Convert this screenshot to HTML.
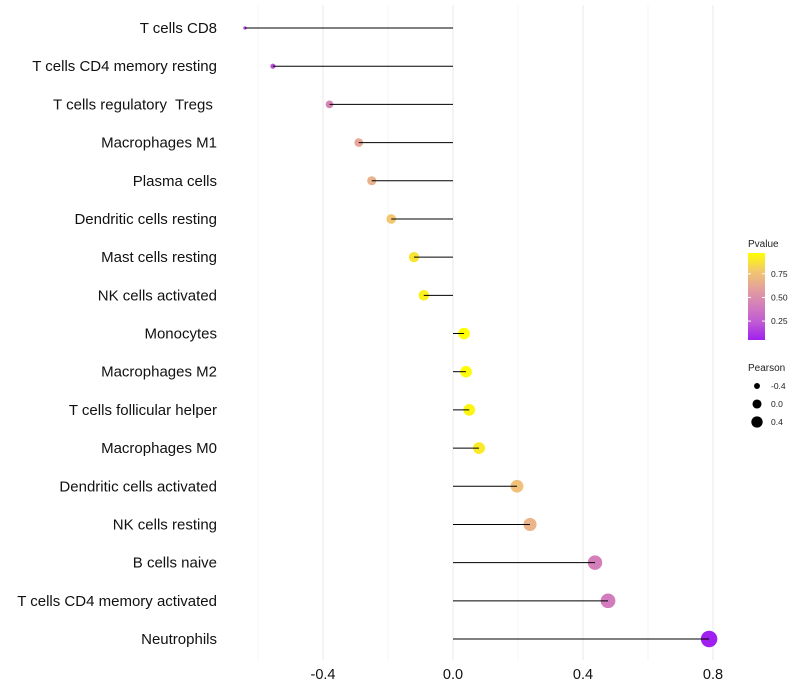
<!DOCTYPE html>
<html><head><meta charset="utf-8"><style>
body{margin:0;background:#fff;}
svg{display:block;font-family:"Liberation Sans",Arial,sans-serif;}
text{white-space:pre;}
</style></head><body>
<svg id="chart" width="800" height="700"></svg>
<script>
const categories=["T cells CD8","T cells CD4 memory resting","T cells regulatory  Tregs ","Macrophages M1","Plasma cells","Dendritic cells resting","Mast cells resting","NK cells activated","Monocytes","Macrophages M2","T cells follicular helper","Macrophages M0","Dendritic cells activated","NK cells resting","B cells naive","T cells CD4 memory activated","Neutrophils"];
const pearson=[-0.64,-0.554,-0.38,-0.29,-0.25,-0.19,-0.12,-0.09,0.034,0.04,0.05,0.08,0.197,0.237,0.437,0.477,0.788];
const pvalues=[0.15,0.2,0.45,0.62,0.68,0.78,0.88,0.92,0.97,0.96,0.94,0.9,0.76,0.7,0.42,0.4,0.05];
const xTicks=[-0.4,0.0,0.4,0.8];
const xMinor=[-0.6,-0.2,0.2,0.6];
const pTicks=[0.25,0.5,0.75];
const sizeTicks=[-0.4,0.0,0.4];

const NS="http://www.w3.org/2000/svg";
const svg=document.getElementById('chart');
function el(t,a,p){const e=document.createElementNS(NS,t);for(const k in a)e.setAttribute(k,a[k]);(p||svg).appendChild(e);return e;}
const xS=v=>453+v*325;
const yS=i=>28+i*(639-28)/16;
const rS=v=>1.1*Math.sqrt(Math.max(0.5,2.25+37.8*(v+0.64)));
function colS(p){
  const stops=[[0.05,[160,32,240]],[0.25,[194,94,211]],[0.5,[220,143,174]],[0.75,[240,190,128]],[0.97,[255,255,0]]];
  p=Math.max(0.05,Math.min(0.97,p));
  let k=0;while(k<stops.length-2&&p>stops[k+1][0])k++;
  const a=stops[k],b=stops[k+1],t=(p-a[0])/(b[0]-a[0]);
  const c=a[1].map((x,i)=>Math.round(x+(b[1][i]-x)*t));
  return `rgb(${c[0]},${c[1]},${c[2]})`;
}
xMinor.forEach(v=>{const g=el('line',{x1:xS(v),x2:xS(v),y1:5,y2:660,stroke:'#f4f4f4','stroke-width':1});
});
xTicks.forEach(v=>{const g=el('line',{x1:xS(v),x2:xS(v),y1:5,y2:660,stroke:'#ececec','stroke-width':1.1});

const t=el('text',{x:xS(v),y:679,'text-anchor':'middle','font-size':14.5,fill:'#111'});t.textContent=v.toFixed(1);
});
categories.forEach((c,i)=>{
  const y=yS(i);
  const t=el('text',{x:217,y:y+5,'text-anchor':'end','font-size':15,fill:'#111'});t.textContent=c;
  
  const pt=el('circle',{cx:xS(pearson[i]),cy:y,r:rS(pearson[i]),fill:colS(pvalues[i])});
  
  const ln=el('line',{x1:xS(0),x2:xS(pearson[i]),y1:y,y2:y,stroke:'#000','stroke-width':1});
  
});
const defs=el('defs',{});
const lg=el('linearGradient',{id:'pg',x1:0,y1:1,x2:0,y2:0},defs);
[0,0.2,0.4,0.6,0.8,1].forEach(f=>el('stop',{offset:f,'stop-color':colS(0.05+f*0.92)},lg));
const lt=el('text',{x:748,y:247,'font-size':10,fill:'#222'});lt.textContent='Pvalue';

const bar=el('rect',{x:748,y:253,width:17,height:87,fill:'url(#pg)'});

const pY=p=>340-(p-0.05)/0.92*87;
pTicks.forEach(p=>{
  el('line',{x1:748,x2:751,y1:pY(p),y2:pY(p),stroke:'#fff'});el('line',{x1:762,x2:765,y1:pY(p),y2:pY(p),stroke:'#fff'});
  const t=el('text',{x:771,y:pY(p)+3,'font-size':8.5,fill:'#222'});t.textContent=p.toFixed(2);
  });
const st=el('text',{x:748,y:371,'font-size':10,fill:'#222'});st.textContent='Pearson';

sizeTicks.forEach((v,i)=>{const y=386+i*18;
  const c=el('circle',{cx:757,cy:y,r:rS(v)*0.8,fill:'#000'});
  
  const t=el('text',{x:771,y:y+3,'font-size':8.5,fill:'#222'});t.textContent=v.toFixed(1);
  });
</script>
</body></html>
